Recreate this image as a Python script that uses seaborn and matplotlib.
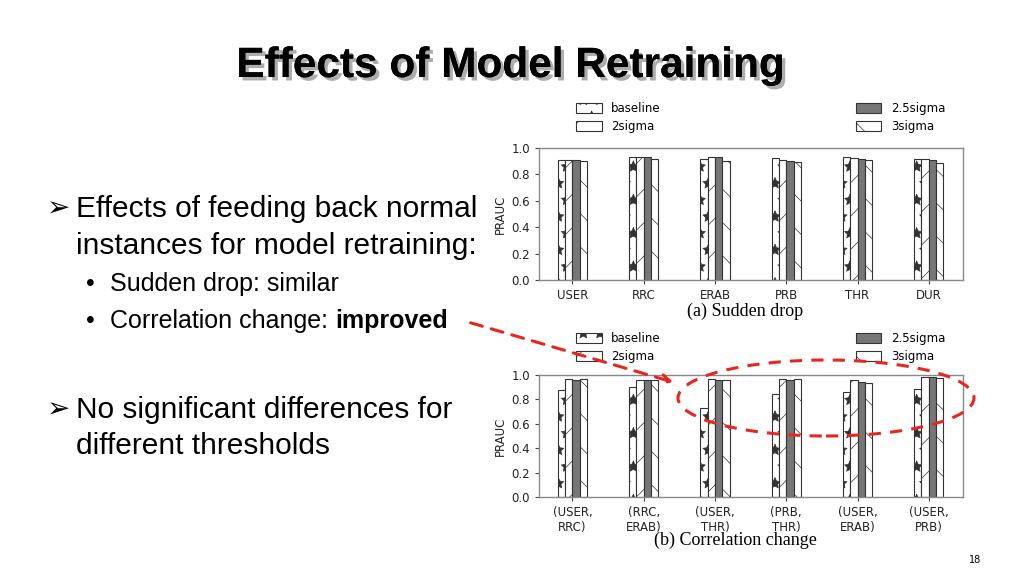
import numpy as np
import pandas as pd
import seaborn as sns
import matplotlib.pyplot as plt
import matplotlib.patheffects as pe
from matplotlib.patches import Ellipse, FancyArrowPatch

# data
methods = ["baseline", "2sigma", "2.5sigma", "3sigma"]

drop_cats = ["USER", "RRC", "ERAB", "PRB", "THR", "DUR"]
drop_baseline = [0.912, 0.930, 0.917, 0.927, 0.930, 0.917]
drop_2sigma = [0.910, 0.930, 0.930, 0.907, 0.922, 0.920]
drop_25sigma = [0.910, 0.930, 0.930, 0.905, 0.920, 0.912]
drop_3sigma = [0.905, 0.920, 0.905, 0.897, 0.907, 0.889]

corr_cats = ["(USER,\nRRC)", "(RRC,\nERAB)", "(USER,\nTHR)", "(PRB,\nTHR)", "(USER,\nERAB)", "(USER,\nPRB)"]
corr_baseline = [0.875, 0.905, 0.730, 0.845, 0.858, 0.883]
corr_2sigma = [0.967, 0.956, 0.967, 0.967, 0.956, 0.984]
corr_25sigma = [0.956, 0.956, 0.956, 0.956, 0.945, 0.984]
corr_3sigma = [0.967, 0.956, 0.956, 0.967, 0.937, 0.978]

yticks = [0.0, 0.2, 0.4, 0.6, 0.8, 1.0]


def to_long(cats, series):
    rows = []
    for m, vals in zip(methods, series):
        for c, v in zip(cats, vals):
            rows.append({"cat": c, "method": m, "PRAUC": v})
    return pd.DataFrame(rows)


drop_df = to_long(drop_cats, [drop_baseline, drop_2sigma, drop_25sigma, drop_3sigma])
corr_df = to_long(corr_cats, [corr_baseline, corr_2sigma, corr_25sigma, corr_3sigma])

sns.set_style("white")
plt.rcParams["font.family"] = ["Liberation Sans", "DejaVu Sans"]
plt.rcParams["text.color"] = "black"
plt.rcParams["axes.labelcolor"] = "#222222"
plt.rcParams["hatch.linewidth"] = 0.5
plt.rcParams["hatch.color"] = "#333333"

fig = plt.figure(figsize=(10.24, 5.76), dpi=100)
fig.patch.set_facecolor("white")

palette = {"baseline": "white", "2sigma": "white", "2.5sigma": "#777777", "3sigma": "white"}
hatches = ["*.", "/", "", "\\"]


def draw_panel(rect, df, cats, leg_y):
    ax = fig.add_axes(rect)
    sns.barplot(data=df, x="cat", y="PRAUC", hue="method", order=cats, hue_order=methods,
                palette=palette, width=0.41, edgecolor="#333333", linewidth=0.8,
                saturation=1, ax=ax, legend=False)
    for cont, h in zip(ax.containers, hatches):
        for p in cont.patches:
            p.set_hatch(h)
    ax.set_ylim(0, 1.0)
    ax.set_xlim(-0.47, 5.48)
    ax.set_yticks(yticks)
    ax.set_yticklabels([f"{t:.1f}" for t in yticks])
    ax.set_xlabel("")
    ax.set_ylabel("PRAUC", fontsize=8.5, family="DejaVu Sans", labelpad=3)
    ax.tick_params(axis="both", labelsize=8.5, length=3, width=0.8, colors="#444444",
                   labelcolor="#222222", left=True, bottom=True)
    for lab in ax.get_xticklabels() + ax.get_yticklabels():
        lab.set_family("DejaVu Sans")
    for s in ax.spines.values():
        s.set_color("#888888")
        s.set_linewidth(1.0)
    ax.legend(ax.containers, methods, ncol=2, mode="expand", loc="lower left",
              bbox_to_anchor=(0.07, leg_y, 0.905, 0.3), frameon=False,
              prop={"family": "DejaVu Sans", "size": 8.5},
              handlelength=2.2, handleheight=0.9, labelspacing=0.45, borderaxespad=0.2)
    return ax


ax_a = draw_panel([539 / 1024, 1 - 280 / 576, 424 / 1024, 132 / 576], drop_df, drop_cats, 1.06)
ax_b = draw_panel([539 / 1024, 1 - 497 / 576, 424 / 1024, 122 / 576], corr_df, corr_cats, 1.04)

# captions under the panels
fig.text(745 / 1024, 1 - 311 / 576, "(a) Sudden drop", ha="center", va="center",
         family="Liberation Serif", fontsize=13)
fig.text(735 / 1024, 1 - 540 / 576, "(b) Correlation change", ha="center", va="center",
         family="Liberation Serif", fontsize=13)

# slide title with shadow
fig.text(511 / 1024, 1 - 66 / 576, "Effects of Model Retraining", ha="center", va="center",
         fontsize=30.5, fontweight="bold", family=["Liberation Sans Narrow", "Liberation Sans"],
         path_effects=[pe.withSimplePatchShadow(offset=(2.5, -2.5), shadow_rgbFace="#999999", alpha=0.8),
                       pe.Normal()])

# bullet text on the left
big = 21.5
small = 18
fig.text(47 / 1024, 1 - 209 / 576, "\u27a2", ha="left", va="center", fontsize=20, family=["DejaVu Sans"])
fig.text(76 / 1024, 1 - 209 / 576, "Effects of feeding back normal", ha="left", va="center", fontsize=big)
fig.text(76 / 1024, 1 - 246 / 576, "instances for model retraining:", ha="left", va="center", fontsize=big)
fig.text(86 / 1024, 1 - 284 / 576, "\u2022", ha="left", va="center", fontsize=small)
fig.text(110 / 1024, 1 - 284 / 576, "Sudden drop: similar", ha="left", va="center", fontsize=small)
fig.text(86 / 1024, 1 - 321 / 576, "\u2022", ha="left", va="center", fontsize=small)
t = fig.text(110 / 1024, 1 - 321 / 576, "Correlation change: ", ha="left", va="center", fontsize=small)
fig.canvas.draw()
bb = t.get_window_extent()
fig.text(bb.x1 / 1024, 1 - 321 / 576, "improved", ha="left", va="center", fontsize=small, fontweight="bold")
fig.text(47 / 1024, 1 - 410 / 576, "\u27a2", ha="left", va="center", fontsize=20, family=["DejaVu Sans"])
fig.text(76 / 1024, 1 - 410 / 576, "No significant differences for", ha="left", va="center", fontsize=big)
fig.text(76 / 1024, 1 - 446 / 576, "different thresholds", ha="left", va="center", fontsize=big)

# red dashed annotation
arrow = FancyArrowPatch((468 / 1024, 1 - 322 / 576), (676 / 1024, 1 - 383 / 576),
                        transform=fig.transFigure, arrowstyle="->,head_length=6,head_width=3",
                        color="#e8261f", linewidth=2.2, linestyle=(0, (4, 3)), zorder=10)
fig.add_artist(arrow)
ell = Ellipse((826 / 1024, 1 - 398 / 576), 296 / 1024, 76 / 576, transform=fig.transFigure,
              fill=False, edgecolor="#e8261f", linewidth=2.2, linestyle=(0, (4, 3)), zorder=10)
fig.add_artist(ell)

fig.text(975 / 1024, 1 - 560 / 576, "18", ha="center", va="center", fontsize=7,
         family="DejaVu Sans")

fig.savefig("out.png", dpi=100)
